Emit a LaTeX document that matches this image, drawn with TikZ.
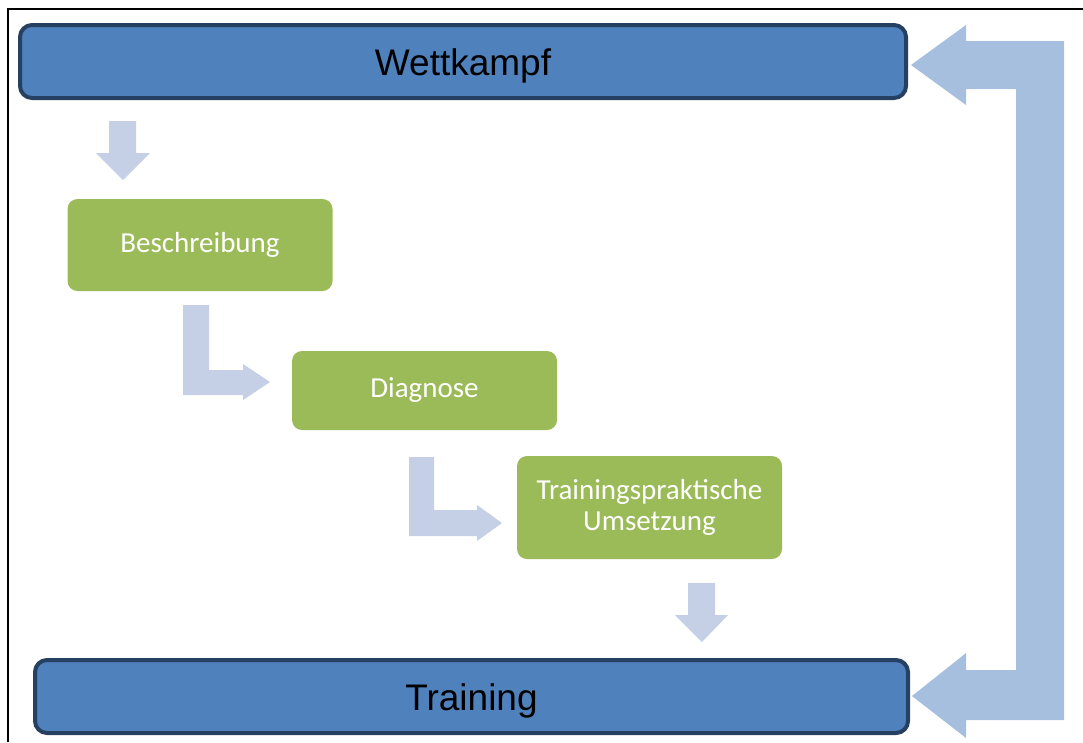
\documentclass[tikz,border=0pt]{standalone}
\usepackage{fontspec}
\setmainfont{Liberation Sans}
\newfontfamily\calfont{Carlito}
\usepackage{tikz}
\definecolor{boxblue}{RGB}{79,129,189}
\definecolor{edgeblue}{RGB}{37,64,97}
\definecolor{boxgreen}{RGB}{155,187,89}
\definecolor{loopblue}{RGB}{167,191,222}
\definecolor{stepblue}{RGB}{197,208,230}
\tikzset{
	bigbox/.style={draw=edgeblue, line width=4pt, fill=boxblue, rounded corners=12pt, text height=30pt, text depth=2pt, font=\fontsize{37}{40}\selectfont},
	greenbox/.style={fill=boxgreen, rounded corners=10pt, text=white, align=center, minimum width=265pt, font=\calfont\fontsize{29}{31}\selectfont},
	steparrow/.style={fill=stepblue},
}

\begin{document}
\begin{tikzpicture}[x=1pt,y=-1pt]
		\useasboundingbox (0,0) rectangle (1083,742);
		%	frame
		\draw [line width=1.5pt] (8,742) -- (8,9) -- (1083,9);
		\node [bigbox, minimum width=886pt, minimum height=73pt] (wett) at (463,61.5) {Wettkampf};
		\node [bigbox, minimum width=873pt, minimum height=73pt] (train) at (471.5,696.5) {Training};
		\node [greenbox, minimum height=92pt] (besch) at (200,245) {Beschreibung};
		\node [greenbox, minimum height=79pt] (diag) at (424.5,390.5) {Diagnose};
		\node [greenbox, minimum height=103pt] (umsetz) at (649.5,507.5) {Trainingspraktische\\Umsetzung};
		%	arrows between the steps
		\fill [steparrow] (109,121) -- (136,121) -- (136,153) -- (150,153) -- (123,180) -- (96,153) -- (109,153) -- cycle;
		\fill [steparrow] (183,305) -- (209,305) -- (209,370) -- (243,370) -- (243,364) -- (270,382) -- (243,400) -- (243,395) -- (183,395) -- cycle;
		\fill [steparrow] (409,457) -- (434,457) -- (434,510) -- (477,510) -- (477,505) -- (502,523) -- (477,541) -- (477,536) -- (409,536) -- cycle;
		\fill [steparrow] (688,583) -- (715,583) -- (715,615) -- (728,615) -- (702,642) -- (675,615) -- (688,615) -- cycle;
		%	loop back on the right
		\fill [loopblue] (1064,41) -- (1064,720) -- (966,720) -- (966,738) -- (912,696) -- (966,653) -- (966,670) -- (1016,670) -- (1016,89) -- (966,89) -- (966,105) -- (911,65) -- (966,25) -- (966,41) -- cycle;
\end{tikzpicture}
\end{document}
